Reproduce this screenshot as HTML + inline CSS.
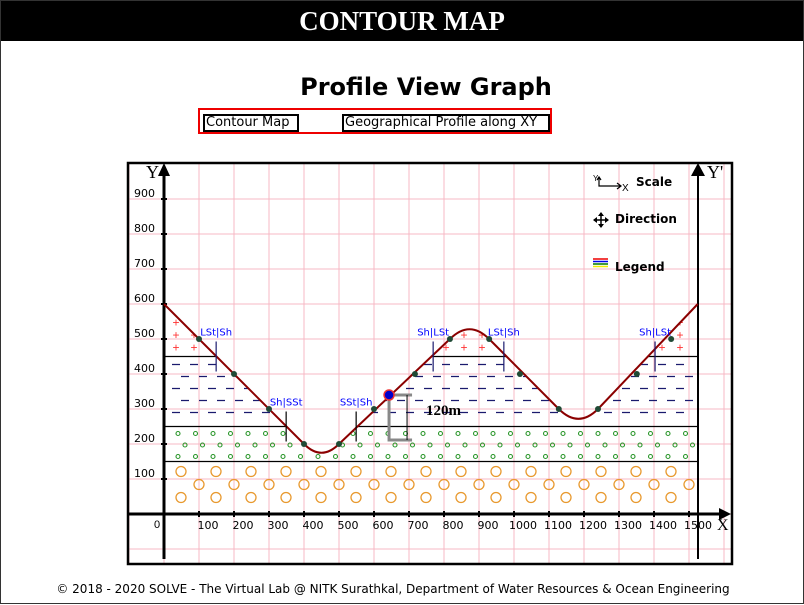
<!DOCTYPE html>
<html><head><meta charset="utf-8"><style>
body{margin:0;width:804px;height:604px;overflow:hidden;background:#fff;font-family:"Liberation Sans",sans-serif}
#page{position:absolute;left:0;top:0;width:802px;height:602px;border:1px solid #333}
#hdr{position:absolute;left:0;top:0;width:802px;height:40px;background:#000;color:#fff;font:bold 27px "Liberation Serif",serif;text-align:center;line-height:40px}
#title{position:absolute;left:0;width:850px;top:72px;text-align:center;font:bold 24px "DejaVu Sans",sans-serif}
#tabs{position:absolute;left:197px;top:107px;width:354px;height:26px;border:2px solid #e00;box-sizing:border-box}
.tab{position:absolute;top:4px;height:18px;border:2px solid #000;box-sizing:border-box;font:13px "DejaVu Sans",sans-serif;line-height:14px;padding:0 1px;white-space:nowrap}
#foot{position:absolute;left:0;width:784px;top:581px;text-align:center;font:12px "DejaVu Sans",sans-serif}
svg{position:absolute;left:0;top:0}
</style></head><body>
<div id="page">
<div id="hdr">CONTOUR MAP</div>
<div id="title">Profile View Graph</div>
<div id="tabs">
<div class="tab" style="left:3px;width:96px">Contour Map</div>
<div class="tab" style="left:142px;width:208px">Geographical Profile along XY</div>
</div>
<svg id="chart" width="804" height="604"></svg>
<div id="foot">© 2018 - 2020 SOLVE - The Virtual Lab @ NITK Surathkal, Department of Water Resources &amp; Ocean Engineering</div>
</div>
<script>
const xTicks=[100,200,300,400,500,600,700,800,900,1000,1100,1200,1300,1400,1500];
const xTickLabels=["100","200","300","400","500","600","700","800","900","1000","1100","1200","1300","1400","1500"];
const yTicks=[100,200,300,400,500,600,700,800,900];
const yTickLabels=["100","200","300","400","500","600","700","800","900"];
// profile vertices; 'Q' entries are bend control points (rounded extremes)
const profileX=[0,400,450,500,817,873,929,1128,1184,1240,1525];
const profileY=[600,200,150,200,500,556,500,300,244,300,600];
const profileKind=['L','L','Q','L','L','Q','L','L','Q','L','L'];
const dotX=[100,200,300,400,500,600,717,817,929,1017,1128,1240,1351,1449];
const dotY=[500,400,300,200,200,300,400,500,500,400,300,300,400,500];
const layerBounds=[450,250,150];
const boundaryLabels=["LSt|Sh","Sh|SSt","SSt|Sh","Sh|LSt","LSt|Sh","Sh|LSt"];
const boundaryX=[149,349,549,769,971,1403];
const boundaryLevel=[450,250,250,450,450,450];
const markerX=[643];const markerY=[340];const markerLabel=["120m"];

const X=v=>163+v*0.35, Y=v=>513-v*0.35;
const svg=document.getElementById('chart');const NS='http://www.w3.org/2000/svg';
function mk(t,a,p){const e=document.createElementNS(NS,t);for(const k in a)e.setAttribute(k,a[k]);(p||svg).appendChild(e);return e;}
// profile path
let d='M'+X(profileX[0])+','+Y(profileY[0]);
for(let i=1;i<profileX.length;i++){
 if(profileKind[i]==='Q'){d+=' Q'+X(profileX[i])+','+Y(profileY[i])+' '+X(profileX[i+1])+','+Y(profileY[i+1]);i++;}
 else d+=' L'+X(profileX[i])+','+Y(profileY[i]);
}
// grid
const grid=mk('g',{stroke:'#f7b8c4','stroke-width':1});

for(let x=128;x<731;x+=35)mk('line',{x1:x,y1:163,x2:x,y2:562},grid);
for(let y=198;y<563;y+=35)mk('line',{x1:128,y1:y,x2:730,y2:y},grid);
const frame=mk('rect',{x:127,y:162,width:604,height:401,fill:'none',stroke:'#000','stroke-width':2.5});

// clip under profile
const defs=mk('defs',{});const cp=mk('clipPath',{id:'under'},defs);
mk('path',{d:d+' L'+X(1525)+','+Y(0)+' L'+X(0)+','+Y(0)+' Z'},cp);
const fill=mk('g',{'clip-path':'url(#under)'});

for(let r=0;r<3;r++){const y=Y(450)-9-r*12.5;for(let x=X(0)+12;x<X(1525);x+=18){const c=mk('text',{x:x,y:y+4,fill:'#f33','font-size':12,'text-anchor':'middle'},fill);c.textContent='+';}}
for(let r=0;r<5;r++){const y=Y(450)+8+r*12;const off=(r%2)?9:0;for(let x=X(0)+12+off;x<X(1525);x+=18)mk('line',{x1:x-4,y1:y,x2:x+4,y2:y,stroke:'#1a1a6e','stroke-width':1.2},fill);}
for(let r=0;r<3;r++){const y=Y(250)+7+r*11.5;const off=(r%2)?7:0;for(let x=X(0)+14+off;x<X(1525);x+=17.5)mk('circle',{cx:x,cy:y,r:2,fill:'none',stroke:'#2a962a','stroke-width':1.1},fill);}
for(let r=0;r<3;r++){const y=Y(150)+10+r*13;const off=(r%2)?18:0;for(let x=X(0)+17+off;x<X(1525);x+=35)mk('circle',{cx:x,cy:y,r:5,fill:'none',stroke:'#e8992e','stroke-width':1.3},fill);}
layerBounds.forEach(v=>{const l=mk('line',{x1:X(0),y1:Y(v),x2:X(1525),y2:Y(v),stroke:'#000','stroke-width':1.2},fill);});
// axes
mk('line',{x1:163,y1:172,x2:163,y2:558,stroke:'#000','stroke-width':3});
mk('polygon',{points:'163,162 157,175 169,175',fill:'#000'});
mk('line',{x1:127,y1:513,x2:718,y2:513,stroke:'#000','stroke-width':3});
mk('polygon',{points:'730,513 718,507 718,519',fill:'#000'});
mk('line',{x1:697,y1:172,x2:697,y2:558,stroke:'#000','stroke-width':2});
mk('polygon',{points:'697,162 690,175 704,175',fill:'#000'});
const lab=(s,x,y,a)=>{const t=mk('text',Object.assign({x:x,y:y},a));t.textContent=s;return t;};
lab('Y',145,177,{'font-family':'Liberation Serif','font-size':18});
lab("Y'",706,177,{'font-family':'Liberation Serif','font-size':18});
lab('X',716,529,{'font-family':'Liberation Serif','font-size':16});
lab('0',153,527,{'font-size':11});
yTicks.forEach((v,i)=>{mk('line',{x1:160,y1:Y(v),x2:166,y2:Y(v),stroke:'#000','stroke-width':2});const t=lab(yTickLabels[i],154,Y(v)-2,{'font-size':11,'text-anchor':'end','font-family':'DejaVu Sans'});});
xTicks.forEach((v,i)=>{mk('line',{x1:X(v),y1:510,x2:X(v),y2:516,stroke:'#000','stroke-width':2});const t=lab(xTickLabels[i],X(v)+9,528,{'font-size':11,'text-anchor':'middle','font-family':'DejaVu Sans'});});
const prof=mk('path',{d:d,fill:'none',stroke:'#8b0000','stroke-width':2});

dotX.forEach((v,i)=>{const c=mk('circle',{cx:X(v),cy:Y(dotY[i]),r:3,fill:'#1f4a35'});});
boundaryLabels.forEach((s,i)=>{const x=X(boundaryX[i]),y=Y(boundaryLevel[i]);
mk('line',{x1:x,y1:y-15,x2:x,y2:y+15,stroke:i==1||i==2?'#000':'#1a1a6e','stroke-width':1.2});
const t=lab(s,x,y-21,{fill:'#00f','font-size':10,'font-family':'DejaVu Sans','text-anchor':'middle'});});
const mx=X(markerX[0]),my=Y(markerY[0]),by=Y(markerY[0]-120)+3;
mk('path',{d:`M${mx+23},${my} H${mx} V${by} H${mx+23}`,fill:'none',stroke:'#888','stroke-width':3});
mk('line',{x1:mx+18,y1:my,x2:mx+18,y2:by,stroke:'#000','stroke-width':1});
const mc=mk('circle',{cx:mx,cy:my,r:5,fill:'#0000cc',stroke:'#e33','stroke-width':1.5});

lab(markerLabel[0],mx+37,my+20,{'font-family':'Liberation Serif','font-size':15,'font-weight':'bold'});
const lg=mk('g',{});
mk('path',{d:'M598,177 V185 H619 M616,182 L620,185 L616,188 M596,179 L598,176 L600,179',fill:'none',stroke:'#000','stroke-width':1.2},lg);
lab('Y',592,180,{'font-size':8});lab('X',621,190,{'font-size':10});
lab('Scale',635,185,{'font-size':12,'font-weight':'bold','font-family':'DejaVu Sans'});
mk('path',{d:'M593,219 H607 M600,212 V226',stroke:'#000','stroke-width':1.5},lg);
mk('polygon',{points:'600,211 597,215 603,215',fill:'#000'},lg);mk('polygon',{points:'600,227 597,223 603,223',fill:'#000'},lg);
mk('polygon',{points:'592,219 596,216 596,222',fill:'#000'},lg);mk('polygon',{points:'608,219 604,216 604,222',fill:'#000'},lg);
lab('Direction',614,222,{'font-size':12,'font-weight':'bold','font-family':'DejaVu Sans'});
['#e00','#00e','#070','#ee0'].forEach((c,i)=>mk('line',{x1:592,y1:258+i*2.5,x2:607,y2:258+i*2.5,stroke:c,'stroke-width':1.5},lg));
lab('Legend',614,270,{'font-size':12,'font-weight':'bold','font-family':'DejaVu Sans'});
</script>
</body></html>
